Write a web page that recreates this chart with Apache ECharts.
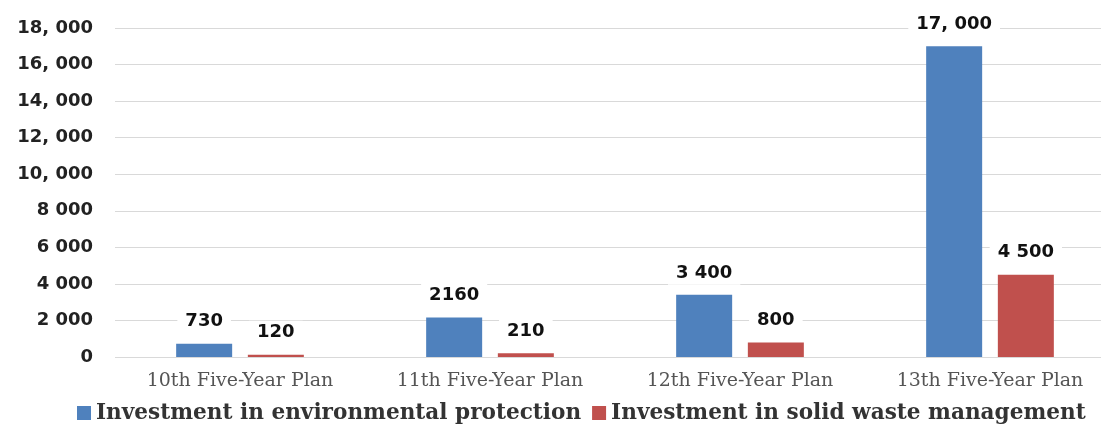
<!DOCTYPE html>
<html><head><meta charset="utf-8">
<script src="https://cdn.jsdelivr.net/npm/echarts@6/dist/echarts.min.js"></script>
<style>html,body{margin:0;padding:0;background:#fff;overflow:hidden}#c{width:1115px;height:425px}</style>
</head><body><div id="c"></div>
<script>
const categories = ['10th Five-Year Plan','11th Five-Year Plan','12th Five-Year Plan','13th Five-Year Plan'];
const envValues = [730, 2160, 3400, 17000];
const wasteValues = [120, 210, 800, 4500];
const envLabels = ['730','2160','3 400','17, 000'];
const wasteLabels = ['120','210','800','4 500'];
const yTickLabels = {0:'0',2000:'2 000',4000:'4 000',6000:'6 000',8000:'8 000',10000:'10, 000',12000:'12, 000',14000:'14, 000',16000:'16, 000',18000:'18, 000'};
const seriesNames = ['Investment in environmental protection','Investment in solid waste management'];

const chart = echarts.init(document.getElementById('c'));
const lab = (arr) => ({
  show: true, position: 'top', distance: 10,
  formatter: p => arr[p.dataIndex],
  color: '#111', fontFamily: 'DejaVu Sans', fontWeight: 'bold', fontSize: 18,
  backgroundColor: '#fff', padding: [3, 8]
});
chart.setOption({
  animation: false,
  grid: { left: 115, right: 0, top: 28, bottom: 68 },
  legend: {
    top: 402, left: 77, itemWidth: 14, itemHeight: 14, itemGap: 11, padding: 0,
    textStyle: { fontFamily: 'DejaVu Serif', fontWeight: 'bold', fontSize: 21.6, color: '#333' },
    icon: 'rect'
  },
  xAxis: {
    type: 'category', data: categories,
    axisLine: { show: false }, axisTick: { show: false },
    axisLabel: { interval: 0, fontFamily: 'DejaVu Serif', fontSize: 19, color: '#555', margin: 15 }
  },
  yAxis: {
    type: 'value', min: 0, max: 18000, interval: 2000,
    axisLabel: { formatter: v => yTickLabels[v], fontFamily: 'DejaVu Sans', fontWeight: 'bold', fontSize: 18, color: '#222', margin: 22 },
    splitLine: { lineStyle: { color: '#d9d9d9', width: 1 } }
  },
  series: [
    { name: seriesNames[0], type: 'bar', data: envValues, barWidth: 56, barGap: '28%', itemStyle: { color: '#4F81BD' }, label: lab(envLabels) },
    { name: seriesNames[1], type: 'bar', data: wasteValues, barWidth: 56, itemStyle: { color: '#C0504D' }, label: lab(wasteLabels) }
  ]
});
</script></body></html>
